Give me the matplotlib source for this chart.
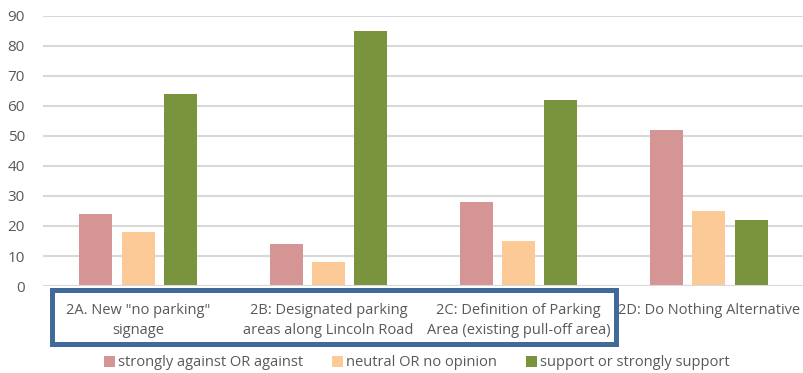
import matplotlib
matplotlib.use("Agg")
import matplotlib.pyplot as plt
import matplotlib.patches as patches
import numpy as np

categories = ['2A. New "no parking"\nsignage',
              '2B: Designated parking\nareas along Lincoln Road',
              '2C: Definition of Parking\nArea (existing pull-off area)',
              '2D: Do Nothing Alternative']
series_names = ['strongly against OR against', 'neutral OR no opinion', 'support or strongly support']
against = [24, 14, 28, 52]
neutral = [18, 8, 15, 25]
support = [64, 85, 62, 22]
yticks = [0, 10, 20, 30, 40, 50, 60, 70, 80, 90]

colors = ['#D59595', '#FBCA96', '#7A943D']
plt.rcParams['font.family'] = ['Open Sans', 'DejaVu Sans']

fig = plt.figure(figsize=(8.04, 3.73), dpi=100)
ax = fig.add_axes([43/804, 1-286/373, 1-43/804, (286-16)/373])

x = np.arange(len(categories))
w = 0.174
step = 0.222
for i, (vals, c, name) in enumerate(zip([against, neutral, support], colors, series_names)):
    ax.bar(x + (i-1)*step, vals, width=w, color=c, label=name, zorder=3)

ax.set_xlim(-0.5, len(categories)-0.5)
ax.set_ylim(0, 90)
ax.set_yticks(yticks)
ax.yaxis.grid(True, color='#D9D9D9', linewidth=1.5, zorder=0)
for s in ax.spines.values():
    s.set_visible(False)
ax.axhline(0, color='#D9D9D9', linewidth=1.5, zorder=4)
ax.tick_params(axis='y', length=0, pad=13, labelsize=11, labelcolor='#595959')
ax.tick_params(axis='x', length=0, pad=12, labelsize=10.5, labelcolor='#595959')
ax.set_xticks(x)
ax.set_xticklabels(categories, linespacing=1.45)
for lbl in ax.get_xticklabels():
    lbl.set_verticalalignment('top')

rect = patches.Rectangle((52/804, 1-344/373), (616-52)/804, (344-290)/373,
                         transform=fig.transFigure, fill=False,
                         edgecolor='#41699A', linewidth=3.6, zorder=10)
fig.patches.append(rect)

leg = fig.legend(loc='center', bbox_to_anchor=(417/804, 1-363/373), ncol=3,
                 frameon=False, fontsize=10.5, handlelength=0.75, handleheight=0.75,
                 handletextpad=0.2, columnspacing=2.0, labelcolor='#595959')

fig.savefig('out.png', dpi=100)
